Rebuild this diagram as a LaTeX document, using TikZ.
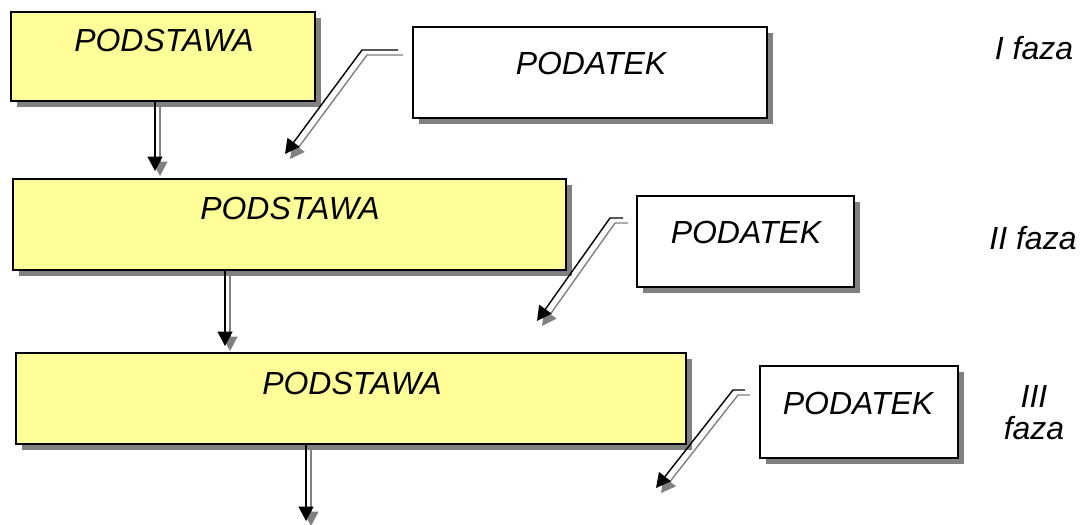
\documentclass[tikz,border=0pt]{standalone}
\usepackage{fontspec}
\setmainfont{Liberation Sans}
\usetikzlibrary{arrows.meta,shadows}
\definecolor{boxyellow}{HTML}{FFFF99}
\definecolor{shadowgray}{HTML}{808080}
\begin{document}
\begin{tikzpicture}[x=0.02cm,y=-0.02cm,
  boxbase/.style={draw=black, line width=1pt, inner sep=0pt,
    drop shadow={shadow xshift=0.12cm, shadow yshift=-0.12cm, fill=shadowgray, opacity=1}},
  basebox/.style={boxbase, fill=boxyellow},
  databox/.style={boxbase, fill=white},
  txt/.style={inner sep=0pt, font=\itshape\fontsize{18.2}{18.2}\selectfont},
  conn/.style={line width=0.8pt, black, -{Triangle[length=0.29cm,width=0.3cm]}},
  connshadow/.style={line width=0.8pt, shadowgray, -{Triangle[length=0.29cm,width=0.3cm]},
    transform canvas={xshift=0.1cm, yshift=-0.1cm}}
]
\useasboundingbox (0,0) rectangle (1081,524);

% boxes
\node[basebox, minimum width=6.08cm, minimum height=1.78cm] (p1) at (163,56.5) {};
\node[databox, minimum width=7.08cm, minimum height=1.82cm] (d1) at (590,72.5) {};
\node[basebox, minimum width=11.06cm, minimum height=1.82cm] (p2) at (289.5,224.5) {};
\node[databox, minimum width=4.34cm, minimum height=1.82cm] (d2) at (745.5,241.5) {};
\node[basebox, minimum width=13.4cm, minimum height=1.82cm] (p3) at (351,398.5) {};
\node[databox, minimum width=3.96cm, minimum height=1.84cm] (d3) at (859,412) {};

% texts
\node[txt] (tp1) at (164,40) {PODSTAWA};
\node[txt] (td1) at (591,63) {PODATEK};
\node[txt] (tp2) at (290,208) {PODSTAWA};
\node[txt] (td2) at (746,232) {PODATEK};
\node[txt] (tp3) at (352,383) {PODSTAWA};
\node[txt] (td3) at (858,403) {PODATEK};
\node[txt] (f1) at (1034,48) {I faza};
\node[txt] (f2) at (1033,238) {II faza};
\node[txt, align=center] (f3) at (1034,413) {III\\faza};

% connector end points
\coordinate (v1) at (155,171);
\coordinate (v2) at (225,346);
\coordinate (v3) at (306,521);
\coordinate (s1) at (398,50);  \coordinate (c1) at (362,50);  \coordinate (e1) at (285,154);
\coordinate (s2) at (623,218); \coordinate (c2) at (610,218); \coordinate (e2) at (537,321);
\coordinate (s3) at (745,390); \coordinate (c3) at (733,390); \coordinate (e3) at (656,488);

% vertical connectors
\draw[connshadow] (p1.south -| v1) -- (v1);
\draw[conn] (p1.south -| v1) -- (v1);
\draw[connshadow] (p2.south -| v2) -- (v2);
\draw[conn] (p2.south -| v2) -- (v2);
\draw[connshadow] (p3.south -| v3) -- (v3);
\draw[conn] (p3.south -| v3) -- (v3);

% diagonal connectors
\draw[connshadow] (s1) -- (c1) -- (e1);
\draw[conn] (s1) -- (c1) -- (e1);
\draw[connshadow] (s2) -- (c2) -- (e2);
\draw[conn] (s2) -- (c2) -- (e2);
\draw[connshadow] (s3) -- (c3) -- (e3);
\draw[conn] (s3) -- (c3) -- (e3);
\end{tikzpicture}
\end{document}
